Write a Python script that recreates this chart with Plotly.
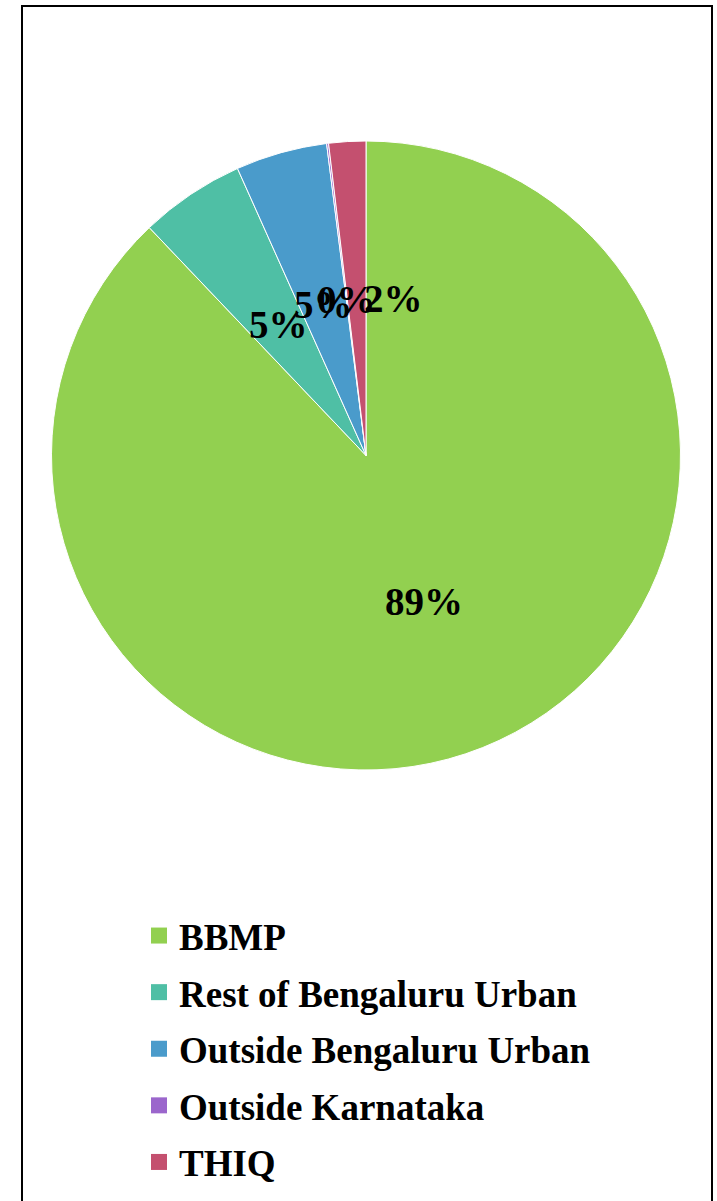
import math
import plotly.graph_objects as go

# ---- data ----
categories = ["BBMP", "Rest of Bengaluru Urban", "Outside Bengaluru Urban",
              "Outside Karnataka", "THIQ"]
values = [87.9, 5.4, 4.7, 0.1, 1.9]
pct_labels = ["89%", "5%", "5%", "0%", "2%"]

# ---- styling ----
colors = ["#92D050", "#4FBFA5", "#4A9BCB", "#9B66CC", "#C4506F"]
W, H = 717, 1201
FONT = "Liberation Serif"
# pie geometry in pixels
cx, cy, R = 366.0, 455.5, 314.5
label_r = 0.5
label_nudge_px = {"THIQ": 37}

fig = go.Figure()
fig.add_trace(go.Pie(
    labels=categories, values=values, sort=False, direction="clockwise",
    rotation=0, marker=dict(colors=colors, line=dict(color="white", width=1)),
    textinfo="none", hoverinfo="label+percent", showlegend=False,
    domain=dict(x=[(cx - R) / W, (cx + R) / W],
                y=[1 - (cy + R) / H, 1 - (cy - R) / H]),
))

# legend entries (square swatches)
for name, col in zip(categories, colors):
    fig.add_trace(go.Scatter(
        x=[None], y=[None], mode="markers", name=name, legendgroup=name,
        marker=dict(symbol="square", size=16, color=col),
        showlegend=True, hoverinfo="skip"))

# percentage labels placed at slice mid-angles
total = sum(values)
cum = 0.0
annotations = []
for name, v, txt in zip(categories, values, pct_labels):
    mid = (cum + v / 2) / total * 2 * math.pi
    cum += v
    px = cx + label_r * R * math.sin(mid) + label_nudge_px.get(name, 0)
    py = cy - label_r * R * math.cos(mid)
    annotations.append(dict(
        x=px / W, y=1 - py / H, xref="paper", yref="paper", text=txt,
        showarrow=False, xanchor="center", yanchor="middle",
        font=dict(family=FONT, size=39, color="black", weight="bold")))

fig.update_layout(
    width=W, height=H, margin=dict(l=0, r=0, t=0, b=0),
    paper_bgcolor="white", plot_bgcolor="white",
    xaxis=dict(visible=False), yaxis=dict(visible=False),
    annotations=annotations,
    legend=dict(x=139 / W, y=1 - 905 / H, xanchor="left", yanchor="top",
                font=dict(family=FONT, size=37, color="black", weight="bold"),
                tracegroupgap=5.5, bgcolor="rgba(0,0,0,0)"),
    shapes=[dict(type="rect", xref="paper", yref="paper",
                 x0=22 / W, x1=712 / W, y0=-0.01, y1=1 - 6 / H,
                 line=dict(color="black", width=2))],
)

fig.write_html("out.html", config={"displayModeBar": False},
               post_script="document.body.style.margin='0';"
                           "document.body.style.overflow='hidden';")
